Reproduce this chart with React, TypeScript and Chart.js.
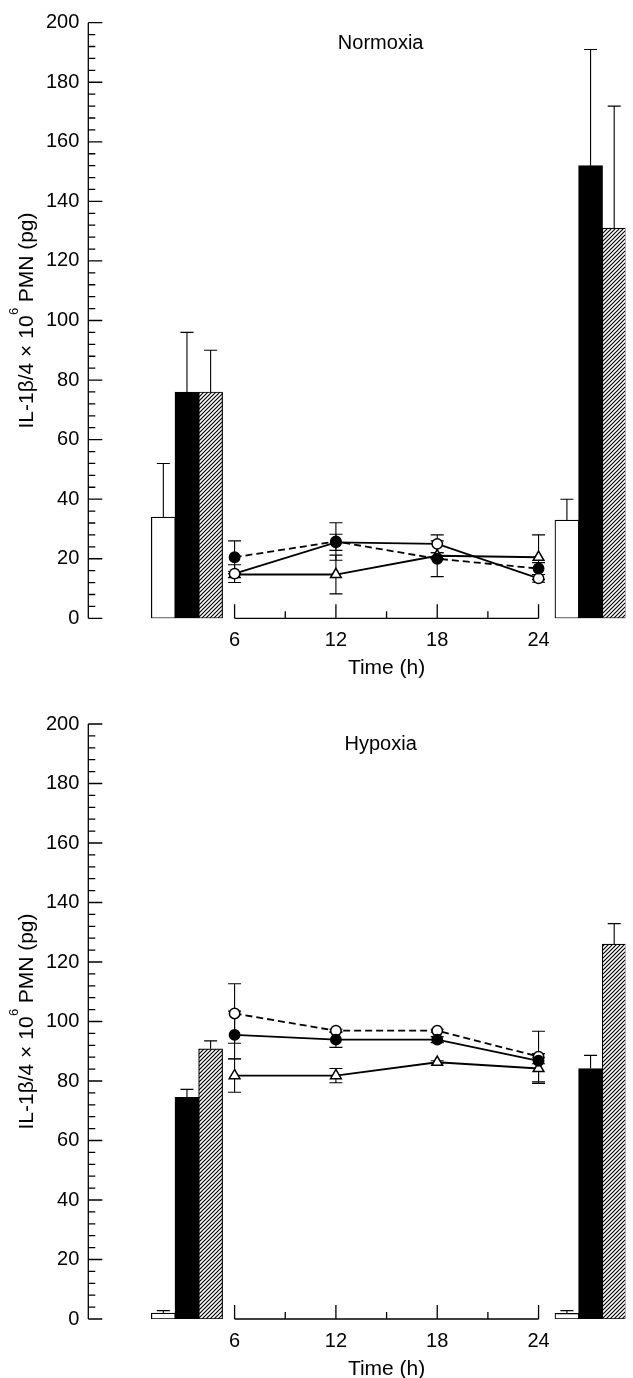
import React, { useEffect, useRef } from "react";
import { Chart, registerables } from "chart.js";

Chart.register(...registerables);

const FONT = "'Liberation Sans', Arial, Helvetica, sans-serif";

// ---------- data ----------
const TIMES = [6, 12, 18, 24];
const TIME_TICKS = [6, 12, 18, 24];
const TIME_MINOR_TICKS = [9, 15, 21];
const Y_AXIS_TITLE_MAIN = "IL-1\u03B2/4 \u00D7 10";
const Y_AXIS_TITLE_SUP = "6";
const Y_AXIS_TITLE_END = " PMN (pg)";
const X_AXIS_TITLE = "Time (h)";

// Normoxia
const NORM_BARS_START = [34, 76, 76]; // open, filled, hatched
const NORM_BARS_START_ERR = [18, 20, 14];
const NORM_BARS_END = [33, 152, 131];
const NORM_BARS_END_ERR = [7, 39, 41];
const NORM_OPEN = [15, 25.5, 25, 13.4];
const NORM_OPEN_ERR = [3, 2.7, 3, 1.3];
const NORM_FILLED = [20.5, 25.8, 20, 16.7];
const NORM_FILLED_ERR = [5.5, 6.3, 6, 2];
const NORM_TRIANGLE = [14.7, 14.7, 21, 20.5];
const NORM_TRIANGLE_ERR = [1, 6.5, 1, 7.5];

// Hypoxia
const HYP_BARS_START = [2, 74.5, 90.8];
const HYP_BARS_START_ERR = [0.8, 2.7, 2.7];
const HYP_BARS_END = [1.9, 84.2, 126];
const HYP_BARS_END_ERR = [0.9, 4.4, 6.9];
const HYP_OPEN = [102.7, 96.9, 96.9, 88.2];
const HYP_OPEN_ERR = [10, 0.5, 0.5, 8.5];
const HYP_FILLED = [95.5, 93.9, 93.9, 86.8];
const HYP_FILLED_ERR = [8, 2.6, 1, 1];
const HYP_TRIANGLE = [81.8, 81.8, 86.3, 84.2];
const HYP_TRIANGLE_ERR = [5.6, 2.4, 0.5, 5];

// ---------- layout (not data) ----------
const LAYOUT = {
  width: 633,
  xMin: -2.663,
  xMax: 29.137,
  yAxisWidth: 88.3,
  startGroupCenter: 3.18,
  endGroupCenter: 27.08,
  barSlot: 1.4,
  barThickness: 24,
  titleX: 14.65,
  titleY: 193,
};

type PanelDef = {
  title: string;
  height: number;
  padTop: number;
  padBottom: number;
  barsStart: number[];
  barsStartErr: number[];
  barsEnd: number[];
  barsEndErr: number[];
  open: number[];
  openErr: number[];
  filled: number[];
  filledErr: number[];
  triangle: number[];
  triangleErr: number[];
  dashedSeries: "open" | "filled";
};

const PANELS: PanelDef[] = [
  {
    title: "Normoxia",
    height: 701,
    padTop: 22.7,
    padBottom: 82.7,
    barsStart: NORM_BARS_START,
    barsStartErr: NORM_BARS_START_ERR,
    barsEnd: NORM_BARS_END,
    barsEndErr: NORM_BARS_END_ERR,
    open: NORM_OPEN,
    openErr: NORM_OPEN_ERR,
    filled: NORM_FILLED,
    filledErr: NORM_FILLED_ERR,
    triangle: NORM_TRIANGLE,
    triangleErr: NORM_TRIANGLE_ERR,
    dashedSeries: "filled",
  },
  {
    title: "Hypoxia",
    height: 677,
    padTop: 23,
    padBottom: 59,
    barsStart: HYP_BARS_START,
    barsStartErr: HYP_BARS_START_ERR,
    barsEnd: HYP_BARS_END,
    barsEndErr: HYP_BARS_END_ERR,
    open: HYP_OPEN,
    openErr: HYP_OPEN_ERR,
    filled: HYP_FILLED,
    filledErr: HYP_FILLED_ERR,
    triangle: HYP_TRIANGLE,
    triangleErr: HYP_TRIANGLE_ERR,
    dashedSeries: "open",
  },
];

function makeHatch(ctx: CanvasRenderingContext2D): CanvasPattern | string {
  const c = document.createElement("canvas");
  const s = 4;
  c.width = s;
  c.height = s;
  const g = c.getContext("2d");
  if (!g) return "#fff";
  g.fillStyle = "#fff";
  g.fillRect(0, 0, s, s);
  g.strokeStyle = "#000";
  g.lineWidth = 1.15;
  g.beginPath();
  g.moveTo(-1, s + 1);
  g.lineTo(s + 1, -1);
  g.moveTo(-1, 1);
  g.lineTo(1, -1);
  g.moveTo(s - 1, s + 1);
  g.lineTo(s + 1, s - 1);
  g.stroke();
  return ctx.createPattern(c, "repeat") || "#fff";
}

function decorPlugin(p: PanelDef) {
  return {
    id: "decor",
    beforeDatasetsDraw(chart: any) {
      const ctx: CanvasRenderingContext2D = chart.ctx;
      const ys = chart.scales.y;
      ctx.save();
      ctx.strokeStyle = "#000";
      ctx.lineWidth = 1.1;
      chart.data.datasets.forEach((ds: any, i: number) => {
        if (!ds.errors) return;
        const meta = chart.getDatasetMeta(i);
        meta.data.forEach((el: any, j: number) => {
          const v = ds.data[j].y;
          const e = ds.errors[j];
          const x = el.x;
          const yTop = ys.getPixelForValue(v + e);
          const yBot = ys.getPixelForValue(ds.errUp ? v : v - e);
          ctx.beginPath();
          ctx.moveTo(x, yBot);
          ctx.lineTo(x, yTop);
          ctx.moveTo(x - 6.5, yTop);
          ctx.lineTo(x + 6.5, yTop);
          if (!ds.errUp) {
            ctx.moveTo(x - 6.5, yBot);
            ctx.lineTo(x + 6.5, yBot);
          }
          ctx.stroke();
        });
      });
      ctx.restore();
    },
    afterDraw(chart: any) {
      const ctx: CanvasRenderingContext2D = chart.ctx;
      const xs = chart.scales.x;
      const ys = chart.scales.y;
      const area = chart.chartArea;
      ctx.save();
      ctx.strokeStyle = "#000";
      ctx.fillStyle = "#000";

      // y axis line and ticks
      const ax = area.left;
      const y0 = ys.getPixelForValue(ys.min);
      const y1 = ys.getPixelForValue(ys.max);
      ctx.lineWidth = 1.3;
      ctx.beginPath();
      ctx.moveTo(ax, y0);
      ctx.lineTo(ax, y1);
      for (let v = ys.min; v <= ys.max + 1e-6; v += 4) {
        const py = ys.getPixelForValue(v);
        const len = Math.round(v) % 20 === 0 ? 14 : 7;
        ctx.moveTo(ax, py);
        ctx.lineTo(ax + len, py);
      }
      ctx.stroke();

      // time axis
      const tx0 = xs.getPixelForValue(TIME_TICKS[0]);
      const tx1 = xs.getPixelForValue(TIME_TICKS[TIME_TICKS.length - 1]);
      ctx.beginPath();
      ctx.moveTo(tx0, y0);
      ctx.lineTo(tx1, y0);
      TIME_TICKS.forEach((t) => {
        const px = xs.getPixelForValue(t);
        ctx.moveTo(px, y0);
        ctx.lineTo(px, y0 - 14);
      });
      TIME_MINOR_TICKS.forEach((t) => {
        const px = xs.getPixelForValue(t);
        ctx.moveTo(px, y0);
        ctx.lineTo(px, y0 - 7);
      });
      ctx.stroke();

      ctx.textAlign = "center";
      ctx.textBaseline = "middle";
      ctx.font = `20px ${FONT}`;
      TIME_TICKS.forEach((t) => {
        ctx.fillText(String(t), xs.getPixelForValue(t), y0 + 22);
      });
      ctx.font = `21px ${FONT}`;
      const midT = (TIME_TICKS[0] + TIME_TICKS[TIME_TICKS.length - 1]) / 2;
      ctx.fillText(X_AXIS_TITLE, xs.getPixelForValue(midT), y0 + 50);

      // panel title
      ctx.font = `20px ${FONT}`;
      ctx.fillText(
        p.title,
        xs.getPixelForValue(LAYOUT.titleX),
        ys.getPixelForValue(LAYOUT.titleY)
      );

      // y axis title with superscript
      ctx.translate(33, (area.top + area.bottom) / 2);
      ctx.rotate(-Math.PI / 2);
      ctx.textAlign = "left";
      ctx.textBaseline = "alphabetic";
      const mainFont = `21px ${FONT}`;
      const supFont = `13px ${FONT}`;
      ctx.font = mainFont;
      const w1 = ctx.measureText(Y_AXIS_TITLE_MAIN).width;
      const w3 = ctx.measureText(Y_AXIS_TITLE_END).width;
      ctx.font = supFont;
      const w2 = ctx.measureText(Y_AXIS_TITLE_SUP).width;
      const total = w1 + w2 + w3;
      let x = -total / 2;
      ctx.font = mainFont;
      ctx.fillText(Y_AXIS_TITLE_MAIN, x, 0);
      x += w1;
      ctx.font = supFont;
      ctx.fillText(Y_AXIS_TITLE_SUP, x + 0.5, -15);
      x += w2;
      ctx.font = mainFont;
      ctx.fillText(Y_AXIS_TITLE_END, x, 0);

      ctx.restore();
    },
  };
}

function buildConfig(p: PanelDef, ctx: CanvasRenderingContext2D): any {
  const hatch = makeHatch(ctx);
  const startPos = [0, 1, 2].map(
    (i) => LAYOUT.startGroupCenter + (i - 1) * LAYOUT.barSlot
  );
  const endPos = [0, 1, 2].map(
    (i) => LAYOUT.endGroupCenter + (i - 1) * LAYOUT.barSlot
  );
  const barFills = ["#fff", "#000", hatch];

  const lineDs = (
    vals: number[],
    errs: number[],
    style: "circle" | "triangle",
    fill: string,
    dashed: boolean,
    radius: number
  ) => ({
    type: "line",
    data: TIMES.map((t, i) => ({ x: t, y: vals[i] })),
    errors: errs,
    borderColor: "#000",
    borderWidth: 1.8,
    borderDash: dashed ? [7, 4] : [],
    pointStyle: style,
    pointRadius: radius,
    pointBackgroundColor: fill,
    pointBorderColor: "#000",
    pointBorderWidth: 1.5,
    fill: false,
    tension: 0,
  });

  const barDs = [0, 1, 2].map((k) => ({
    type: "bar",
    data: [
      { x: startPos[k], y: p.barsStart[k] },
      { x: endPos[k], y: p.barsEnd[k] },
    ],
    errors: [p.barsStartErr[k], p.barsEndErr[k]],
    errUp: true,
    backgroundColor: barFills[k],
    borderColor: "#000",
    borderWidth: 1.2,
    borderSkipped: false,
    barThickness: LAYOUT.barThickness,
    grouped: false,
  }));

  return {
    type: "bar",
    data: {
      datasets: [
        lineDs(p.filled, p.filledErr, "circle", "#000", p.dashedSeries === "filled", 5.2),
        lineDs(p.open, p.openErr, "circle", "#fff", p.dashedSeries === "open", 5.2),
        lineDs(p.triangle, p.triangleErr, "triangle", "#fff", false, 6.2),
        ...barDs,
      ],
    },
    options: {
      animation: false,
      responsive: true,
      maintainAspectRatio: false,
      layout: { padding: { top: p.padTop, bottom: p.padBottom, left: 0, right: 0 } },
      plugins: {
        legend: { display: false },
        tooltip: { enabled: false },
        title: { display: false },
      },
      scales: {
        x: {
          type: "linear",
          min: LAYOUT.xMin,
          max: LAYOUT.xMax,
          display: false,
          offset: false,
        },
        y: {
          type: "linear",
          position: "left",
          min: 0,
          max: 200,
          ticks: {
            stepSize: 20,
            font: { family: FONT, size: 20 },
            color: "#000",
            padding: 9,
          },
          grid: { display: false, drawTicks: false, tickLength: 0 },
          border: { display: false },
          afterFit: (s: any) => {
            s.width = LAYOUT.yAxisWidth;
          },
        },
      },
    },
    plugins: [decorPlugin(p)],
  };
}

function Panel({ def }: { def: PanelDef }) {
  const ref = useRef<HTMLCanvasElement>(null);
  useEffect(() => {
    const canvas = ref.current;
    if (!canvas) return;
    const ctx = canvas.getContext("2d");
    if (!ctx) return;
    const chart = new Chart(canvas, buildConfig(def, ctx));
    return () => chart.destroy();
  }, [def]);
  return (
    <div style={{ position: "relative", width: LAYOUT.width, height: def.height }}>
      <canvas ref={ref} style={{ display: "block" }} />
    </div>
  );
}

export default function App() {
  useEffect(() => {
    document.body.style.margin = "0";
    document.body.style.overflow = "hidden";
    document.body.style.background = "#fff";
  }, []);
  return (
    <div style={{ width: LAYOUT.width, background: "#fff" }}>
      {PANELS.map((p) => (
        <Panel key={p.title} def={p} />
      ))}
    </div>
  );
}
